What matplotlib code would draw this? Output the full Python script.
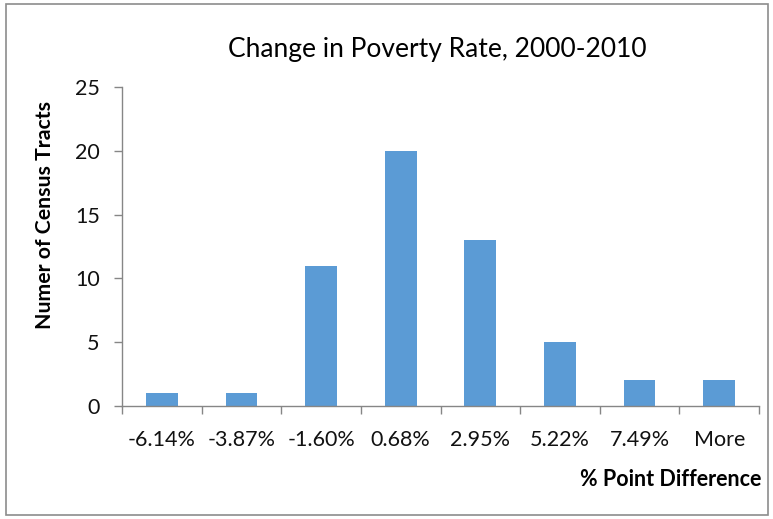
import matplotlib
matplotlib.use("Agg")
import matplotlib.pyplot as plt
from matplotlib.patches import Rectangle

categories = ["-6.14%", "-3.87%", "-1.60%", "0.68%", "2.95%", "5.22%", "7.49%", "More"]
counts = [1, 1, 11, 20, 13, 5, 2, 2]
yticks = [0, 5, 10, 15, 20, 25]

plt.rcParams['font.family'] = ['Lato', 'DejaVu Sans']

W, H = 773, 519
fig = plt.figure(figsize=(W / 100, H / 100), dpi=100)
ax = fig.add_axes([122 / W, 1 - 406 / H, (759 - 122) / W, (406 - 87) / H])

x = list(range(len(categories)))
ax.bar(x, counts, width=0.4, color="#5B9BD5", zorder=2)
ax.set_xlim(-0.5, len(categories) - 0.5)
ax.set_ylim(0, 25)
ax.set_yticks(yticks)
ax.set_yticklabels([str(v) for v in yticks], fontsize=15.5, color="#111111")
ax.set_xticks(x)
ax.set_xticklabels(categories, fontsize=15.5, color="#111111")
ax.tick_params(axis="x", length=0, pad=17)
# category boundary ticks
ax.set_xticks([i - 0.5 for i in range(len(categories) + 1)], minor=True)
ax.tick_params(axis="x", which="minor", length=6, color="#868686", width=1)
ax.tick_params(axis="y", length=6, color="#868686", width=1, pad=10)

for s in ["top", "right"]:
    ax.spines[s].set_visible(False)
for s in ["left", "bottom"]:
    ax.spines[s].set_color("#868686")
    ax.spines[s].set_linewidth(1)

fig.text(437 / W, 1 - 50 / H, "Change in Poverty Rate, 2000-2010", ha="center", va="center",
         fontsize=19, color="#000000")
fig.text(45 / W, 1 - 215 / H, "Numer of Census Tracts", rotation=90, ha="center", va="center",
         fontsize=15.3, fontweight="bold", color="#000000")
fig.text(761 / W, 1 - 479 / H, "% Point Difference", ha="right", va="center",
         fontsize=15.5, fontweight="bold", color="#000000")

fig.patches.append(Rectangle((6 / W, 4 / H), (768 - 6) / W, (515 - 4) / H,
                             transform=fig.transFigure, fill=False,
                             edgecolor="#8c8c8c", linewidth=1.2))

fig.savefig("out.png", dpi=100)
